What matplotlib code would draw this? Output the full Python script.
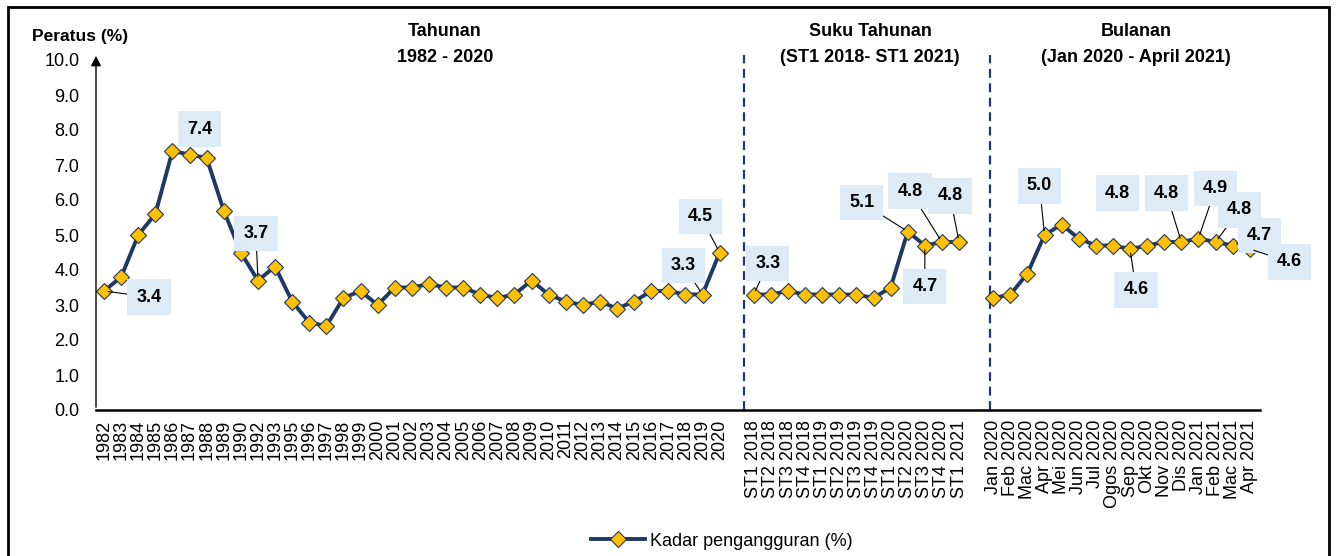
import numpy as np
import matplotlib
matplotlib.use("Agg")
import matplotlib.pyplot as plt
from matplotlib.patches import Rectangle

plt.rcParams['font.family'] = ['Liberation Sans', 'DejaVu Sans']

# data
years = ["1982", "1983", "1984", "1985", "1986", "1987", "1988", "1989", "1990",
         "1992", "1993", "1995", "1996", "1997", "1998", "1999", "2000", "2001",
         "2002", "2003", "2004", "2005", "2006", "2007", "2008", "2009", "2010",
         "2011", "2012", "2013", "2014", "2015", "2016", "2017", "2018", "2019", "2020"]
annual = [3.4, 3.8, 5.0, 5.6, 7.4, 7.3, 7.2, 5.7, 4.5,
          3.7, 4.1, 3.1, 2.5, 2.4, 3.2, 3.4, 3.0, 3.5,
          3.5, 3.6, 3.5, 3.5, 3.3, 3.2, 3.3, 3.7, 3.3,
          3.1, 3.0, 3.1, 2.9, 3.1, 3.4, 3.4, 3.3, 3.3, 4.5]

quarters = ["ST1 2018", "ST2 2018", "ST3 2018", "ST4 2018", "ST1 2019", "ST2 2019",
            "ST3 2019", "ST4 2019", "ST1 2020", "ST2 2020", "ST3 2020", "ST4 2020", "ST1 2021"]
quarterly = [3.3, 3.3, 3.4, 3.3, 3.3, 3.3, 3.3, 3.2, 3.5, 5.1, 4.7, 4.8, 4.8]

months = ["Jan 2020", "Feb 2020", "Mac 2020", "Apr 2020", "Mei 2020", "Jun 2020",
          "Jul 2020", "Ogos 2020", "Sep 2020", "Okt 2020", "Nov 2020", "Dis 2020",
          "Jan 2021", "Feb 2021", "Mac 2021", "Apr 2021"]
monthly = [3.2, 3.3, 3.9, 5.0, 5.3, 4.9, 4.7, 4.7, 4.6, 4.7, 4.8, 4.8, 4.9, 4.8, 4.7, 4.6]

# one empty slot between the three sections
labels = years + [""] + quarters + [""] + months
values = annual + [np.nan] + quarterly + [np.nan] + monthly
x = np.arange(len(labels))
gap1 = len(years)
gap2 = len(years) + 1 + len(quarters)

# labelled points: (category, text offset in px (dx, dy up), leader line?)
callouts = [("1982", 45, -6, True), ("1986", 27, 22, False), ("1992", -2, 47, True),
            ("2019", -19, 29, True), ("2020", -19, 36, True),
            ("ST1 2018", 14, 31, True), ("ST2 2020", -46, 29, True),
            ("ST3 2020", 0, -41, True), ("ST4 2020", -32, 51, True),
            ("ST1 2021", -9, 46, True),
            ("Apr 2020", -5, 49, True), ("Sep 2020", 6, -41, True),
            ("Nov 2020", -47, 49, False), ("Dis 2020", -15, 49, True),
            ("Jan 2021", 17, 50, True), ("Feb 2021", 24, 32, True),
            ("Mac 2021", 27, 10, True), ("Apr 2021", 40, -13, True)]

navy = "#1F3864"
gold = "#FFC000"
boxc = "#DDEBF7"

fig = plt.figure(figsize=(13.4, 5.56), dpi=100)
ax = fig.add_axes([96/1340, 1-410/556, (1260-96)/1340, 350/556])

ax.plot(x, values, color=navy, lw=2.8, marker="D", ms=8,
        markerfacecolor=gold, markeredgecolor=navy, markeredgewidth=0.8,
        label="Kadar pengangguran (%)", zorder=3)

ax.set_xlim(-0.47, len(labels) - 0.4)
ax.set_ylim(0, 10)
ax.set_yticks(np.arange(0, 10.5, 1.0))
ax.set_yticklabels(["%.1f" % v for v in np.arange(0, 10.5, 1.0)])
ax.set_xticks(x)
ax.set_xticklabels(labels, rotation=90)
ax.tick_params(axis="y", length=0, pad=12, labelsize=13)
ax.tick_params(axis="x", length=0, pad=7, labelsize=13)

for s in ["top", "right"]:
    ax.spines[s].set_visible(False)
ax.spines["left"].set_visible(False)
ax.spines["bottom"].set_linewidth(1.8)
ax.spines["bottom"].set_color("black")
ax.annotate("", xy=(-0.47, 10.2), xytext=(-0.47, 0), xycoords="data",
            arrowprops=dict(arrowstyle="-|>", color="black", lw=1, mutation_scale=15),
            annotation_clip=False)

for g, off in [(gap1, 0.4), (gap2, 0.8)]:
    ax.axvline(g + off, ymin=0, ymax=1.015, color=navy, lw=1.6, ls=(0, (4, 2.5)),
               clip_on=False)

for name, dx, dy, lead in callouts:
    i = labels.index(name)
    ap = dict(arrowstyle="-", color="black", lw=0.8, shrinkA=0, shrinkB=3) if lead else None
    ax.annotate("%.1f" % values[i], xy=(i, values[i]), xytext=(dx*0.72, dy*0.72),
                textcoords="offset points", ha="center", va="center",
                fontsize=13, fontweight="bold",
                bbox=dict(boxstyle="square,pad=0.5", fc=boxc, ec="none"),
                arrowprops=ap, zorder=4)

fig.text(80/1340, 1-37/556, "Peratus (%)", ha="center", va="center",
         fontsize=12.5, fontweight="bold")
titles = [(445, "Tahunan", "1982 - 2020"),
          (870, "Suku Tahunan", "(ST1 2018- ST1 2021)"),
          (1136, "Bulanan", "(Jan 2020 - April 2021)")]
for px, t1, t2 in titles:
    fig.text(px/1340, 1-31/556, t1, ha="center", va="center", fontsize=13, fontweight="bold")
    fig.text(px/1340, 1-57/556, t2, ha="center", va="center", fontsize=13, fontweight="bold")

fig.legend(loc="center", bbox_to_anchor=(722/1340, 1-541/556), frameon=False,
           fontsize=13, handlelength=3.0, handletextpad=0.3)

fig.patches.append(Rectangle((8/1340, -0.05), (1329-8)/1340, 1.05 - 7/556,
                             transform=fig.transFigure, fill=False, ec="black", lw=2))

fig.savefig("out.png", dpi=100)
